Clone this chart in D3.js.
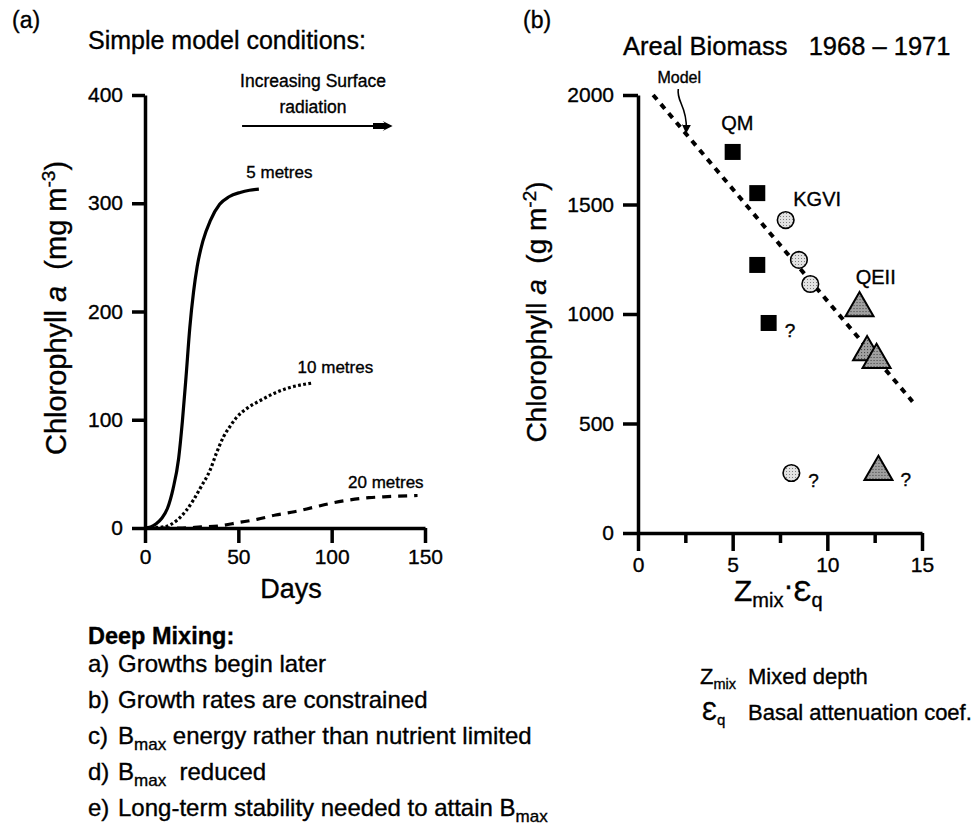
<!DOCTYPE html>
<html>
<head>
<meta charset="utf-8">
<script src="https://cdn.jsdelivr.net/npm/d3@7"></script>
<style>
  body { margin: 0; background: #fff; }
  svg text { font-family: "Liberation Sans", Arial, sans-serif; fill: #000; stroke: #000; stroke-width: 0.35px; }
  .axis text { font-family: "Liberation Sans", Arial, sans-serif; }
</style>
</head>
<body>
<svg id="fig" width="973" height="839"></svg>
<script>
// ---- panel (a): simple model growth curves (days vs chlorophyll a, mg m-3)
const days5m  = [0, 3, 6, 9, 12, 15, 18, 20, 22, 24, 26, 28, 31, 35, 40, 45, 51, 56, 61];
const chl5m   = [0, 1, 4, 9, 18, 36, 64, 98, 140, 185, 218, 242, 265, 284, 299, 306, 310, 312, 313];
const days10m = [0, 10, 17, 22, 26, 30, 35, 38, 42, 46, 49, 55, 62, 70, 76, 83, 90];
const chl10m  = [0, 1, 7, 16, 26, 38, 54, 68, 84, 95, 102, 111, 118, 125, 129, 132, 134];
const days20m = [0, 20, 30, 40, 50, 60, 70, 80, 90, 100, 110, 120, 130, 146];
const chl20m  = [0, 0, 1, 2, 5, 8, 12, 15, 19, 23, 26, 28, 29, 30];
const curveNames = ["5 metres", "10 metres", "20 metres"];
const daysTicks = [0, 50, 100, 150];
const chlTicksA = [0, 100, 200, 300, 400];

// ---- panel (b): areal biomass 1968-1971 vs Zmix.Eq
const qmX   = [5.0, 6.3, 6.3, 6.9];
const qmY   = [1740, 1552, 1224, 959];
const kgviX = [7.8, 8.5, 9.1, 8.1];
const kgviY = [1429, 1247, 1137, 274];
const qeiiX = [11.7, 12.1, 12.6, 12.7];
const qeiiY = [1027, 826, 790, 279];
// 1 = value marked with a "?"
const qmQ   = [0, 0, 0, 1];
const kgviQ = [0, 0, 0, 1];
const qeiiQ = [0, 0, 0, 1];
const modelX = [0.8, 14.5];
const modelY = [2000, 600];
const zTicksMajor = [0, 5, 10, 15];
const zTicksMinor = [2.5, 7.5, 12.5];
const chlTicksB = [0, 500, 1000, 1500, 2000];

// ---- text notes
const noteTags  = ["a)", "b)", "c)", "d)", "e)"];
const noteTexts = ["Growths begin later",
                   "Growth rates are constrained",
                   "B{max} energy rather than nutrient limited",
                   "B{max}  reduced",
                   "Long-term stability needed to attain B{max}"];

const svg = d3.select("#fig");

// stipple fills for the circles and triangles
const defs = svg.append("defs");
function stipple(id, bg, dot) {
  const p = defs.append("pattern").attr("id", id)
      .attr("width", 3).attr("height", 3).attr("patternUnits", "userSpaceOnUse");
  p.append("rect").attr("width", 3).attr("height", 3).attr("fill", bg);
  p.append("rect").attr("width", 1).attr("height", 1).attr("fill", dot);
}
stipple("dotLight", "#e2e2e2", "#808080");
stipple("dotDark", "#a0a0a0", "#3a3a3a");

// arrowhead markers
defs.append("marker").attr("id", "bigArrow")
    .attr("viewBox", "0 0 20 10").attr("refX", 2).attr("refY", 5)
    .attr("markerWidth", 20).attr("markerHeight", 10)
    .attr("markerUnits", "userSpaceOnUse").attr("orient", "auto")
  .append("path").attr("d", "M0,2 L12,2 L10,0 L20,5 L10,10 L12,8 L0,8 Z").attr("fill", "#000");
defs.append("marker").attr("id", "smallArrow")
    .attr("viewBox", "0 0 10 10").attr("refX", 5).attr("refY", 5)
    .attr("markerWidth", 9).attr("markerHeight", 9)
    .attr("markerUnits", "userSpaceOnUse").attr("orient", "auto")
  .append("path").attr("d", "M0,0 L10,5 L0,10 Z").attr("fill", "#000");

// write a string where {xxx} becomes a subscript
function richText(sel, str, size, subSize, shift) {
  const parts = str.split(/(\{[^}]*\})/).filter(s => s.length);
  let down = false;
  parts.forEach(function(s) {
    if (s[0] == "{") {
      sel.append("tspan").attr("font-size", subSize).attr("dy", shift).text(s.slice(1, -1));
      down = true;
    } else {
      sel.append("tspan").attr("font-size", size).attr("dy", down ? -shift : 0).text(s);
      down = false;
    }
  });
}

// thick black axis lines like the original figure
function styleAxis(g, fs) {
  g.selectAll("path, line").attr("stroke", "#000").attr("stroke-width", 3.5);
  g.selectAll("text").attr("font-size", fs);
}

// ================= panel (a) =================
const xA = d3.scaleLinear().domain([0, 150]).range([145, 425]);
const yA = d3.scaleLinear().domain([0, 400]).range([528, 95]);

const ga = svg.append("g");

ga.append("g").attr("class", "axis")
    .attr("transform", "translate(0," + yA(0) + ")")
    .call(d3.axisBottom(xA).tickValues(daysTicks).tickSize(15).tickSizeOuter(0).tickPadding(6))
    .call(g => styleAxis(g, 21));
ga.append("g").attr("class", "axis")
    .attr("transform", "translate(" + xA(0) + ",0)")
    .call(d3.axisLeft(yA).tickValues(chlTicksA).tickSize(13).tickSizeOuter(0).tickPadding(9))
    .call(g => styleAxis(g, 21));

const lineA = d3.line().x(d => xA(d[0])).y(d => yA(d[1])).curve(d3.curveMonotoneX);
const curves = [
  { pts: d3.zip(days5m, chl5m),   dash: null },
  { pts: d3.zip(days10m, chl10m), dash: "2.8,2.4" },
  { pts: d3.zip(days20m, chl20m), dash: "9,7" }
];
ga.selectAll("path.growth").data(curves).enter().append("path")
    .attr("class", "growth")
    .attr("d", d => lineA(d.pts))
    .attr("fill", "none").attr("stroke", "#000").attr("stroke-width", 3.2)
    .attr("stroke-dasharray", d => d.dash);

// curve labels sit above each curve's end
const labelPos = [[72, 323], [102, 143], [129, 37]];
ga.selectAll("text.cname").data(curveNames).enter().append("text")
    .attr("class", "cname").attr("font-size", 17).attr("text-anchor", "middle")
    .attr("x", (d, i) => xA(labelPos[i][0])).attr("y", (d, i) => yA(labelPos[i][1]))
    .text(d => d);

ga.append("text").attr("x", xA(90)).attr("y", 87).attr("text-anchor", "middle")
    .attr("font-size", 17.5).text("Increasing Surface");
ga.append("text").attr("x", xA(90)).attr("y", 113).attr("text-anchor", "middle")
    .attr("font-size", 17.5).text("radiation");
ga.append("line").attr("x1", xA(52)).attr("x2", xA(123)).attr("y1", 126).attr("y2", 126)
    .attr("stroke", "#000").attr("stroke-width", 2).attr("marker-end", "url(#bigArrow)");

ga.append("text").attr("x", 291).attr("y", 598).attr("text-anchor", "middle")
    .attr("font-size", 27).text("Days");

const ylabA = ga.append("text").attr("transform", "translate(66,308) rotate(-90)")
    .attr("text-anchor", "middle").attr("font-size", 29);
ylabA.append("tspan").text("Chlorophyll ");
ylabA.append("tspan").attr("font-style", "italic").text("a");
ylabA.append("tspan").attr("xml:space", "preserve").text("  (mg m");
ylabA.append("tspan").attr("font-size", 19).attr("dy", -11).text("-3");
ylabA.append("tspan").attr("dy", 11).text(")");

svg.append("text").attr("x", 12).attr("y", 28).attr("font-size", 23).text("(a)");
svg.append("text").attr("x", 88).attr("y", 49).attr("font-size", 25).text("Simple model conditions:");

// ================= panel (b) =================
const xB = d3.scaleLinear().domain([0, 15]).range([638, 922]);
const yB = d3.scaleLinear().domain([0, 2000]).range([533, 95]);

const gb = svg.append("g");

gb.append("g").attr("class", "axis")
    .attr("transform", "translate(0," + yB(0) + ")")
    .call(d3.axisBottom(xB).tickValues(zTicksMajor).tickSize(18).tickSizeOuter(0).tickPadding(6))
    .call(g => styleAxis(g, 21));
gb.append("g").attr("class", "axis")
    .attr("transform", "translate(0," + yB(0) + ")")
    .call(d3.axisBottom(xB).tickValues(zTicksMinor).tickSize(10).tickSizeOuter(0).tickFormat(""))
    .call(g => g.select(".domain").remove())
    .call(g => styleAxis(g, 21));
gb.append("g").attr("class", "axis")
    .attr("transform", "translate(" + xB(0) + ",0)")
    .call(d3.axisLeft(yB).tickValues(chlTicksB).tickFormat(d3.format("d"))
        .tickSize(15).tickSizeOuter(0).tickPadding(9))
    .call(g => styleAxis(g, 21));

// model line
const lineB = d3.line().x(d => xB(d[0])).y(d => yB(d[1]));
gb.append("path").attr("d", lineB(d3.zip(modelX, modelY)))
    .attr("fill", "none").attr("stroke", "#000").attr("stroke-width", 4)
    .attr("stroke-dasharray", "6,6");

// "Model" pointer
const modelAt = d3.scaleLinear().domain(modelX).range(modelY);
const tipX = xB(2.55), tipY = yB(modelAt(2.55));
gb.append("text").attr("x", tipX - 7).attr("y", 83).attr("text-anchor", "middle")
    .attr("font-size", 16).text("Model");
gb.append("path")
    .attr("d", "M" + (tipX - 8) + ",89 C" + (tipX - 10) + ",102 " + (tipX + 1) + ",106 " + tipX + "," + (tipY - 5))
    .attr("fill", "none").attr("stroke", "#000").attr("stroke-width", 1.6)
    .attr("marker-end", "url(#smallArrow)");

// points
const sq = 16;
gb.selectAll("rect.qm").data(d3.zip(qmX, qmY)).enter().append("rect")
    .attr("class", "qm")
    .attr("x", d => xB(d[0]) - sq / 2).attr("y", d => yB(d[1]) - sq / 2)
    .attr("width", sq).attr("height", sq).attr("fill", "#000");
gb.selectAll("circle.kgvi").data(d3.zip(kgviX, kgviY)).enter().append("circle")
    .attr("class", "kgvi")
    .attr("cx", d => xB(d[0])).attr("cy", d => yB(d[1])).attr("r", 8.3)
    .attr("fill", "url(#dotLight)").attr("stroke", "#000").attr("stroke-width", 1.6);
const tri = d3.symbol().type(d3.symbolTriangle).size(340);
gb.selectAll("path.qeii").data(d3.zip(qeiiX, qeiiY)).enter().append("path")
    .attr("class", "qeii")
    .attr("transform", d => "translate(" + xB(d[0]) + "," + yB(d[1]) + ")")
    .attr("d", tri())
    .attr("fill", "url(#dotDark)").attr("stroke", "#000").attr("stroke-width", 2);

// question marks on doubtful values
const doubtful = []
  .concat(d3.zip(qmX, qmY, qmQ).map(d => [d[0], d[1], d[2], 16]))
  .concat(d3.zip(kgviX, kgviY, kgviQ).map(d => [d[0], d[1], d[2], 17]))
  .concat(d3.zip(qeiiX, qeiiY, qeiiQ).map(d => [d[0], d[1], d[2], 22]))
  .filter(d => d[2] == 1);
gb.selectAll("text.q").data(doubtful).enter().append("text")
    .attr("class", "q").attr("font-size", 19)
    .attr("x", d => xB(d[0]) + d[3]).attr("y", d => yB(d[1]) + 14)
    .text("?");

// station names
const stationNames = ["QM", "KGVI", "QEII"];
const stationAt = [[4.4, 1840], [8.2, 1495], [11.5, 1135]];
gb.selectAll("text.st").data(stationNames).enter().append("text")
    .attr("class", "st").attr("font-size", 20)
    .attr("x", (d, i) => xB(stationAt[i][0])).attr("y", (d, i) => yB(stationAt[i][1]))
    .text(d => d);

const xlabB = gb.append("text").attr("x", 734).attr("y", 601).attr("font-size", 30);
xlabB.append("tspan").text("Z");
xlabB.append("tspan").attr("font-size", 20).attr("dy", 6).text("mix");
xlabB.append("tspan").attr("dy", -12).text("·");
xlabB.append("tspan").attr("dy", 6).text("Ɛ");
xlabB.append("tspan").attr("font-size", 20).attr("dy", 6).text("q");

const ylabB = gb.append("text").attr("transform", "translate(546,312) rotate(-90)")
    .attr("text-anchor", "middle").attr("font-size", 28);
ylabB.append("tspan").text("Chlorophyll ");
ylabB.append("tspan").attr("font-style", "italic").text("a");
ylabB.append("tspan").attr("xml:space", "preserve").text("  (g m");
ylabB.append("tspan").attr("font-size", 19).attr("dy", -10).text("-2");
ylabB.append("tspan").attr("dy", 10).text(")");

svg.append("text").attr("x", 523).attr("y", 28).attr("font-size", 23).text("(b)");
svg.append("text").attr("x", 623).attr("y", 55).attr("font-size", 25.5)
    .attr("xml:space", "preserve").text("Areal Biomass   1968 – 1971");

// ================= notes =================
svg.append("text").attr("x", 88).attr("y", 644).attr("font-size", 23.5)
    .attr("font-weight", "bold").text("Deep Mixing:");
noteTexts.forEach(function(s, i) {
  const y = 672 + i * 36;
  svg.append("text").attr("x", 88).attr("y", y).attr("font-size", 24).text(noteTags[i]);
  const t = svg.append("text").attr("x", 118).attr("y", y).attr("font-size", 24)
      .attr("xml:space", "preserve");
  richText(t, s, 24, 17, 6);
});

const legZ = svg.append("text").attr("x", 700).attr("y", 684).attr("font-size", 22);
legZ.append("tspan").text("Z");
legZ.append("tspan").attr("font-size", 14.5).attr("dy", 5).text("mix");
svg.append("text").attr("x", 748).attr("y", 684).attr("font-size", 22).text("Mixed depth");
const legE = svg.append("text").attr("x", 702).attr("y", 720).attr("font-size", 25);
legE.append("tspan").text("Ɛ");
legE.append("tspan").attr("font-size", 15).attr("dy", 5).text("q");
svg.append("text").attr("x", 748).attr("y", 720).attr("font-size", 22).text("Basal attenuation coef.");
</script>
</body>
</html>
